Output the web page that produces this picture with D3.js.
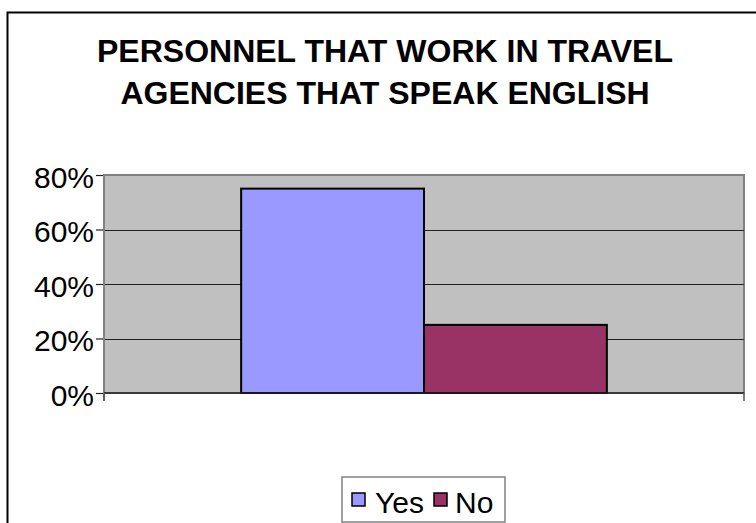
<!DOCTYPE html>
<html>
<head>
<meta charset="utf-8">
<script src="https://cdn.jsdelivr.net/npm/d3@7"></script>
<style>
  html, body { margin: 0; padding: 0; background: #fff; }
  svg { display: block; font-family: "Liberation Sans", Arial, sans-serif; }
</style>
</head>
<body>
<svg id="chart" width="756" height="523"></svg>
<script>
// Chart data
const titleLines = ["PERSONNEL THAT WORK IN TRAVEL", "AGENCIES THAT SPEAK ENGLISH"];
const categories = [""];
const seriesNames = ["Yes", "No"];
const seriesValues = [[0.75], [0.25]];
const seriesColors = ["#9999FF", "#993366"];
const yTicks = [0, 0.2, 0.4, 0.6, 0.8];

const svg = d3.select("#chart");

// Outer chart frame (continues past the right and bottom edges)
svg.append("rect")
  .attr("x", 7.5).attr("y", 12.5)
  .attr("width", 800).attr("height", 560)
  .attr("fill", "#fff").attr("stroke", "#000").attr("stroke-width", 2);

// Title
const title = svg.append("text")
  .attr("text-anchor", "middle")
  .attr("font-size", 32)
  .attr("font-weight", "bold")
  .attr("fill", "#000");
titleLines.forEach((line, i) => {
  title.append("tspan").attr("x", 385).attr("y", 62 + i * 42).text(line);
});

// Plot area
const plot = { left: 104, right: 744, top: 175, bottom: 393 };

const y = d3.scaleLinear().domain([0, 0.8]).range([plot.bottom, plot.top]);
const x0 = d3.scaleBand().domain(categories)
  .range([plot.left, plot.right]).paddingInner(0).paddingOuter(0.375);
const x1 = d3.scaleBand().domain(seriesNames)
  .range([0, x0.bandwidth()]).padding(0);

svg.append("rect")
  .attr("x", plot.left).attr("y", plot.top)
  .attr("width", plot.right - plot.left).attr("height", plot.bottom - plot.top)
  .attr("fill", "#C0C0C0").attr("stroke", "#808080").attr("stroke-width", 2);

// Horizontal gridlines
svg.append("g").selectAll("line")
  .data(yTicks.filter(t => t > 0 && t < 0.8))
  .join("line")
  .attr("x1", plot.left).attr("x2", plot.right)
  .attr("y1", d => Math.round(y(d)) + 0.5).attr("y2", d => Math.round(y(d)) + 0.5)
  .attr("stroke", "#222").attr("stroke-width", 1);

// Bars
const groups = svg.append("g").selectAll("g")
  .data(categories)
  .join("g")
  .attr("transform", d => `translate(${x0(d)},0)`);

groups.selectAll("rect")
  .data((d, ci) => seriesNames.map((s, si) => ({ s, v: seriesValues[si][ci], c: seriesColors[si] })))
  .join("rect")
  .attr("x", d => x1(d.s))
  .attr("y", d => y(d.v))
  .attr("width", x1.bandwidth())
  .attr("height", d => y(0) - y(d.v))
  .attr("fill", d => d.c)
  .attr("stroke", "#000").attr("stroke-width", 2);

// Y axis
const yAxis = d3.axisLeft(y)
  .tickValues(yTicks)
  .tickFormat(d3.format(".0%"))
  .tickSize(8)
  .tickPadding(2);

const yG = svg.append("g")
  .attr("transform", `translate(${plot.left},0)`)
  .call(yAxis);
yG.select(".domain").remove();
yG.selectAll(".tick line").attr("stroke", "#222").attr("stroke-width", 1.2);
yG.selectAll(".tick text")
  .attr("font-size", 30)
  .attr("font-family", "'Liberation Sans', Arial, sans-serif")
  .attr("fill", "#000")
  .attr("dy", 12);

// Axis lines
svg.append("line")
  .attr("x1", plot.left).attr("x2", plot.left)
  .attr("y1", plot.top).attr("y2", plot.bottom + 8)
  .attr("stroke", "#808080").attr("stroke-width", 2);
svg.append("line")
  .attr("x1", plot.left).attr("x2", plot.right)
  .attr("y1", plot.bottom).attr("y2", plot.bottom)
  .attr("stroke", "#222").attr("stroke-width", 1.5);

// X axis category edge ticks
const edgeTicks = [plot.left, plot.right];
svg.append("g").selectAll("line")
  .data(edgeTicks)
  .join("line")
  .attr("x1", d => d).attr("x2", d => d)
  .attr("y1", plot.bottom).attr("y2", plot.bottom + 8)
  .attr("stroke", "#555").attr("stroke-width", 1.5);

// Legend
const legend = svg.append("g");
legend.append("rect")
  .attr("x", 342).attr("y", 477)
  .attr("width", 163).attr("height", 45)
  .attr("fill", "#fff").attr("stroke", "#808080").attr("stroke-width", 1.5);

const itemX = [352, 434];
const textX = [375, 455];
seriesNames.forEach((name, i) => {
  legend.append("rect")
    .attr("x", itemX[i]).attr("y", 493)
    .attr("width", 13).attr("height", 13)
    .attr("fill", seriesColors[i])
    .attr("stroke", "#000").attr("stroke-width", 1.5);
  legend.append("text")
    .attr("x", textX[i]).attr("y", 513)
    .attr("font-size", 30)
    .attr("fill", "#000")
    .text(name);
});
</script>
</body>
</html>
